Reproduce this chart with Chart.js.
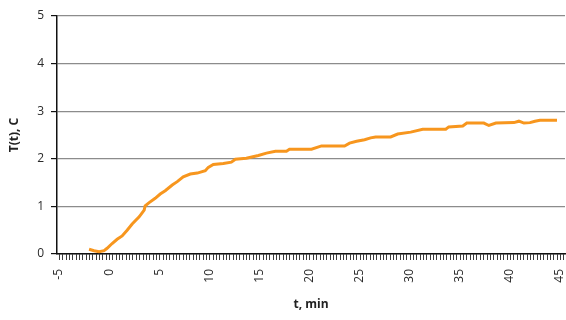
<!DOCTYPE html>
<html>
<head>
<meta charset="utf-8">
<script src="https://cdn.jsdelivr.net/npm/chart.js@4"></script>
<style>
  html, body { margin: 0; padding: 0; background: #fff; }
  #wrap { width: 566px; height: 320px; position: relative; }
</style>
</head>
<body>
<div id="wrap"><canvas id="c" width="566" height="320"></canvas></div>
<script>
// Time, min
const timeMin = [-2.0, -1.5, -1.0, -0.5, -0.2, 0.3, 0.8, 1.3, 1.8, 2.3, 3.0, 3.5, 3.6, 4.0, 4.6,
  5.1, 5.6, 6.3, 6.8, 7.4, 8.1, 8.8, 9.6, 9.9, 10.4, 11.4, 12.2, 12.6, 13.7, 14.9,
  15.7, 16.6, 17.7, 18.0, 20.2, 21.2, 23.5, 24.0, 24.7, 25.5, 26.1, 26.6, 28.1, 28.8, 30.1,
  31.3, 33.6, 33.9, 35.3, 35.7, 37.4, 37.9, 38.6, 40.4, 40.9, 41.4, 42.0, 42.5, 43.0, 44.7];
// Temperature T(t), C
const tempC = [0.10, 0.07, 0.05, 0.07, 0.12, 0.22, 0.31, 0.38, 0.50, 0.63, 0.78, 0.92, 1.01, 1.08, 1.17,
  1.26, 1.33, 1.45, 1.52, 1.62, 1.68, 1.70, 1.75, 1.82, 1.88, 1.90, 1.93, 1.99, 2.01, 2.07,
  2.12, 2.16, 2.16, 2.20, 2.20, 2.27, 2.27, 2.33, 2.37, 2.40, 2.44, 2.46, 2.46, 2.52, 2.56,
  2.62, 2.62, 2.67, 2.69, 2.75, 2.75, 2.70, 2.75, 2.76, 2.79, 2.75, 2.76, 2.79, 2.81, 2.81];
// Axis tick labels
const xTickLabels = [-5, 0, 5, 10, 15, 20, 25, 30, 35, 40, 45];
const yTickLabels = [0, 1, 2, 3, 4, 5];
const xMinorStep = 1 / 3;

const pts = timeMin.map((t, i) => ({ x: t, y: tempC[i] }));
const tickFont = { family: "'Open Sans', 'Liberation Sans', sans-serif", size: 12 };
const titleFont = { family: "'Open Sans', 'Liberation Sans', sans-serif", size: 12, weight: 'bold' };

// Comb of minor tick marks under the x axis, placed through the scale's own pixel mapping
const minorTicks = {
  id: 'minorTicks',
  afterDraw(chart) {
    const s = chart.scales.x;
    const ctx = chart.ctx;
    const y0 = chart.chartArea.bottom;
    ctx.save();
    ctx.strokeStyle = '#3c3c3c';
    ctx.lineWidth = 1;
    ctx.beginPath();
    s.ticks.forEach(t => {
      const px = Math.round(s.getPixelForValue(t.value)) + 0.5;
      ctx.moveTo(px, y0);
      ctx.lineTo(px, y0 + 6);
    });
    ctx.stroke();
    ctx.restore();
  }
};

new Chart(document.getElementById('c'), {
  type: 'line',
  data: {
    datasets: [{
      data: pts,
      borderColor: '#F7961E',
      borderWidth: 3,
      pointRadius: 0,
      tension: 0,
      fill: false
    }]
  },
  options: {
    responsive: false,
    animation: false,
    devicePixelRatio: 1,
    layout: { padding: { left: 0, right: 1, top: 16, bottom: 0 } },
    plugins: { legend: { display: false }, tooltip: { enabled: false } },
    scales: {
      x: {
        type: 'linear',
        min: -5.2,
        max: 45.5,
        afterFit: s => { s.height = 66; s.paddingRight = 0; s.paddingLeft = 0; },
        afterBuildTicks: axis => {
          const ticks = [];
          const n = Math.round((45.4 - (-5)) / xMinorStep);
          for (let i = 0; i <= n; i++) ticks.push({ value: -5 + i * xMinorStep });
          axis.ticks = ticks;
        },
        ticks: {
          autoSkip: false,
          minRotation: 90,
          maxRotation: 90,
          padding: 9,
          color: '#2a2a2a',
          font: tickFont,
          callback: v => {
            const r = Math.round(v);
            return (Math.abs(v - r) < 1e-6 && xTickLabels.includes(r)) ? String(r) : '';
          }
        },
        grid: { display: false, drawOnChartArea: false, tickLength: 6 },
        border: { display: true, color: '#111', width: 1.5 },
        title: { display: true, text: 't, min', color: '#222', font: titleFont, padding: { top: 0, bottom: 8 } }
      },
      y: {
        min: 0,
        max: 5,
        afterFit: s => { s.width = 57; },
        afterBuildTicks: axis => { axis.ticks = yTickLabels.map(v => ({ value: v })); },
        ticks: { color: '#2a2a2a', font: tickFont, padding: 7 },
        grid: { color: '#8c8c8c', lineWidth: 1.2, tickLength: 6, tickColor: '#111' },
        border: { color: '#111', width: 1.5 },
        title: { display: true, text: 'T(t), C', color: '#222', font: titleFont, padding: { top: 7, bottom: 0 } }
      }
    }
  },
  plugins: [minorTicks]
});
</script>
</body>
</html>
